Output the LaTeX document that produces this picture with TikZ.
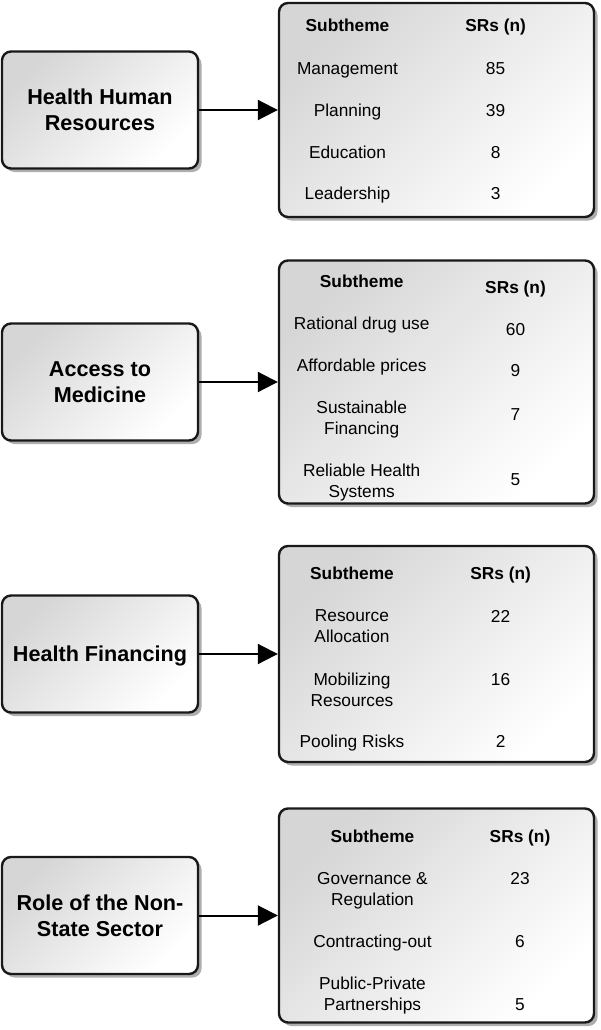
\documentclass[tikz,border=0pt]{standalone}
\usepackage{fontspec}
\setmainfont{Liberation Sans}
\usetikzlibrary{shadows,arrows.meta}
\definecolor{boxgray}{HTML}{D6D6D6}
\tikzset{
  x=1pt, y=-1pt,
  gbox/.style={draw=black!90, line width=2.4pt, rounded corners=9pt,
    top color=boxgray, bottom color=white, shading angle=45,
    drop shadow={shadow xshift=3.5pt, shadow yshift=-3.5pt, fill=black!45, opacity=0.7}},
  themebox/.style={gbox, minimum width=196pt, minimum height=117pt, align=center,
    font=\fontsize{21.6}{26}\selectfont\bfseries, text depth=0pt},
  listbox/.style={gbox, minimum width=315pt},
  hd/.style={font=\fontsize{17.3}{21}\selectfont\bfseries, inner sep=0pt, text height=12.4pt, text depth=0pt},
  cell/.style={font=\fontsize{17.3}{21}\selectfont, align=center, inner sep=0pt, text height=12.4pt, text depth=0pt},
  cellii/.style={font=\fontsize{17.3}{21}\selectfont, align=center, inner sep=0pt, text depth=0pt},
  link/.style={line width=2pt, -{Triangle[length=20pt,width=20pt]}}
}
\begin{document}
\begin{tikzpicture}
\useasboundingbox (0,0) rectangle (600,1030);

% ---------- Block 1 ----------
\node[themebox] (t1) at (100,110) {Health Human\\Resources};
\node[listbox, minimum height=214pt] (r1) at (436.5,110) {};
\draw[link] (t1.east) -- (r1.west);
\node[hd] (h1a) at (347.5,25) {Subtheme};
\node[hd] (h1b) at (495.6,25) {SRs (n)};
\node[cell] (s1a) at (347.5,68) {Management};
\node[cell] (n1a) at (495.6,68) {85};
\node[cell] (s1b) at (347.5,110) {Planning};
\node[cell] (n1b) at (495.6,110) {39};
\node[cell] (s1c) at (347.5,152) {Education};
\node[cell] (n1c) at (495.6,152) {8};
\node[cell] (s1d) at (347.5,193) {Leadership};
\node[cell] (n1d) at (495.6,193) {3};

% ---------- Block 2 ----------
\node[themebox] (t2) at (100,382) {Access to\\Medicine};
\node[listbox, minimum height=243pt] (r2) at (436.5,382) {};
\draw[link] (t2.east) -- (r2.west);
\node[hd] (h2a) at (361.7,281.7) {Subtheme};
\node[hd] (h2b) at (515.5,287.3) {SRs (n)};
\node[cell] (s2a) at (361.7,323.3) {Rational drug use};
\node[cell] (n2a) at (515.5,329.3) {60};
\node[cell] (s2b) at (361.7,365) {Affordable prices};
\node[cell] (n2b) at (515.5,370.7) {9};
\node[cellii] (s2c) at (361.7,418.2) {Sustainable\\Financing};
\node[cell] (n2c) at (515.5,414) {7};
\node[cellii] (s2d) at (361.7,481.2) {Reliable Health\\Systems};
\node[cell] (n2d) at (515.5,479.3) {5};

% ---------- Block 3 ----------
\node[themebox] (t3) at (100,654) {Health Financing};
\node[listbox, minimum height=216pt] (r3) at (436.5,654) {};
\draw[link] (t3.east) -- (r3.west);
\node[hd] (h3a) at (352,573.3) {Subtheme};
\node[hd] (h3b) at (500.6,573.3) {SRs (n)};
\node[cellii] (s3a) at (352,626) {Resource\\Allocation};
\node[cell] (n3a) at (500.6,616) {22};
\node[cellii] (s3b) at (352,689.7) {Mobilizing\\Resources};
\node[cell] (n3b) at (500.6,679.3) {16};
\node[cell] (s3c) at (352,741.7) {Pooling Risks};
\node[cell] (n3c) at (500.6,741.7) {2};

% ---------- Block 4 ----------
\node[themebox] (t4) at (100,915.5) {Role of the Non-\\State Sector};
\node[listbox, minimum height=214pt] (r4) at (436.5,915.5) {};
\draw[link] (t4.east) -- (r4.west);
\node[hd] (h4a) at (372.5,836) {Subtheme};
\node[hd] (h4b) at (520,836) {SRs (n)};
\node[cellii] (s4a) at (372.5,888.5) {Governance \&\\Regulation};
\node[cell] (n4a) at (520,878) {23};
\node[cell] (s4b) at (372.5,941.7) {Contracting-out};
\node[cell] (n4b) at (520,941.7) {6};
\node[cellii] (s4c) at (372.5,993.5) {Public-Private\\Partnerships};
\node[cell] (n4c) at (520,1004) {5};
\end{tikzpicture}
\end{document}
